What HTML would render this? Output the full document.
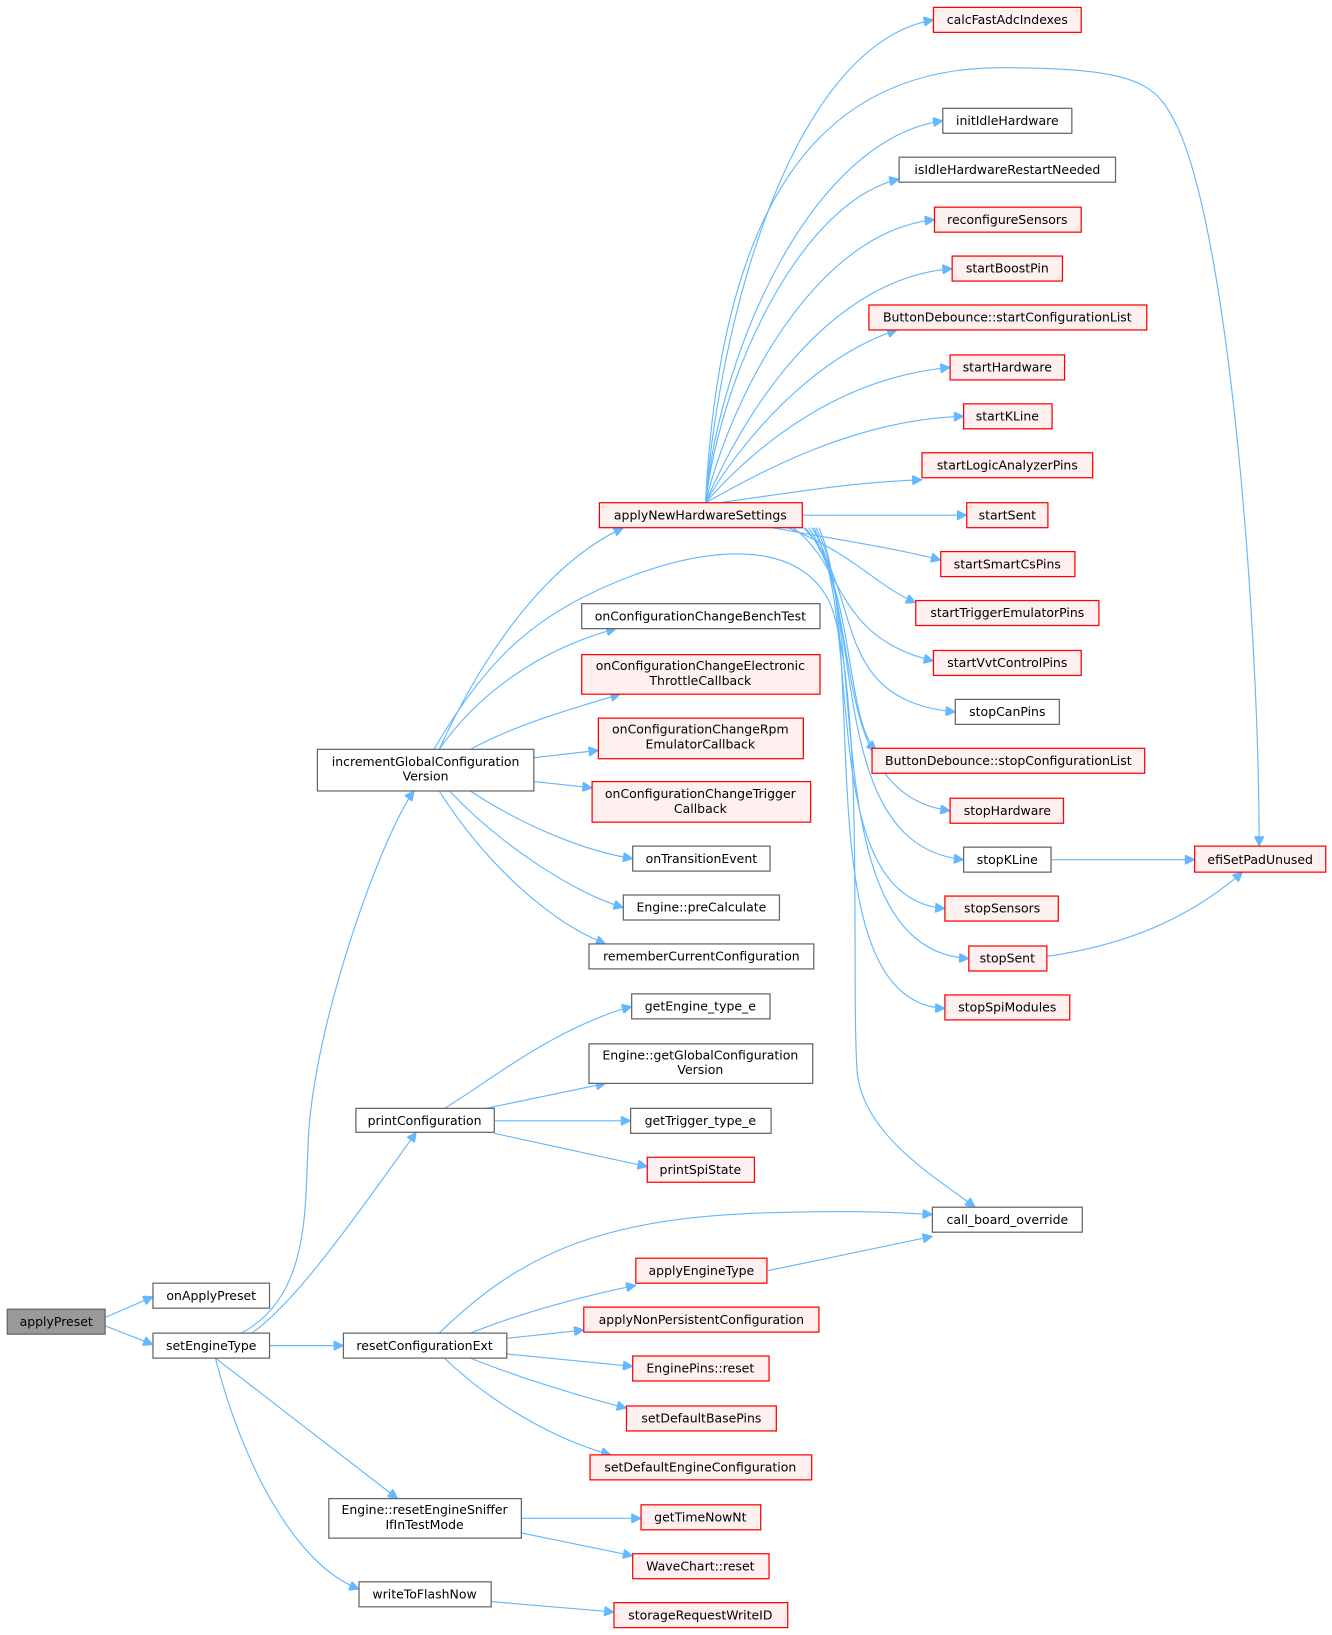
<!DOCTYPE html>
<html><head><meta charset="utf-8"><style>
html,body{margin:0;padding:0;background:#fff;width:1332px;height:1635px;overflow:hidden}
svg{display:block}
text{font-family:"DejaVu Sans","Liberation Sans",sans-serif;font-size:12px;fill:#000;text-anchor:middle}
.g{fill:#fff;stroke:#666;stroke-width:1.2}
.r{fill:#fff0f0;stroke:#ff0000;stroke-width:1.2}
.s{fill:#999;stroke:#666;stroke-width:1.2}
.e{fill:none;stroke:#63b8ff;stroke-width:1.1}
</style></head><body>
<svg width="1332" height="1635" viewBox="0 0 1280 1571" xmlns="http://www.w3.org/2000/svg">
<defs><marker id="a" viewBox="0 0 10 10" refX="10" refY="5" markerWidth="11" markerHeight="9" markerUnits="userSpaceOnUse" orient="auto"><path d="M0,0 L10,5 L0,10 z" fill="#63b8ff" stroke="#63b8ff"/></marker></defs>
<g transform="translate(2,3)">
<g class="e" marker-end="url(#a)">
<path d="M99,1263 L145,1243"/>
<path d="M99,1271 L145,1289"/>
<path d="M230,1278 C300,1240 290,1150 295,1080 C305,960 370,790 396,757"/>
<path d="M240,1278 C280,1250 330,1180 398,1085"/>
<path d="M257,1290 L328,1290"/>
<path d="M205,1302 L380,1437"/>
<path d="M205,1302 C230,1400 280,1500 343,1524"/>
<path d="M420,717 C460,630 520,540 597,504"/>
<path d="M420,717 C460,660 520,620 590,601"/>
<path d="M450,717 C490,695 540,680 594,664"/>
<path d="M511,725 L573,718"/>
<path d="M511,748 L567,754"/>
<path d="M450,757 C500,790 560,815 606,822"/>
<path d="M430,757 C480,810 550,855 597,869"/>
<path d="M420,757 C460,820 520,880 580,904"/>
<path d="M415,717 C460,640 500,600 560,570 C650,525 760,505 795,575 C830,660 815,950 822,1030 C830,1090 900,1130 935,1157"/>
<path d="M425,1062 C470,1035 530,985 605,964"/>
<path d="M465,1062 L580,1038"/>
<path d="M473,1074 L604,1074"/>
<path d="M473,1086 L620,1118"/>
<path d="M420,1278 C500,1200 580,1165 750,1162 C820,1160 860,1162 894,1164"/>
<path d="M450,1278 C500,1258 560,1242 609,1232"/>
<path d="M485,1283 L559,1275"/>
<path d="M485,1298 L606,1310"/>
<path d="M450,1302 C500,1322 560,1340 600,1350"/>
<path d="M425,1302 C470,1345 530,1380 585,1395"/>
<path d="M499,1456 L614,1456"/>
<path d="M499,1470 L606,1492"/>
<path d="M470,1536 L588,1546"/>
<path d="M736,1218 L894,1185"/>
<path d="M1008,823 L1146,823"/>
<path d="M1004,916 C1080,905 1140,880 1192,835"/>
<path d="M676,480 C690,300 760,40 895,16"/>
<path d="M676,480 C690,200 780,62 960,62 C1100,62 1110,80 1130,120 C1180,230 1208,600 1208,810"/>
<path d="M676,480 C690,330 780,130 904,113"/>
<path d="M676,480 C692,350 770,190 862,169"/>
<path d="M676,480 C700,380 780,220 896,208"/>
<path d="M676,480 C710,400 790,265 913,255"/>
<path d="M676,480 C710,420 780,340 860,314"/>
<path d="M676,480 C720,430 800,360 911,350"/>
<path d="M676,480 C730,450 820,400 924,397"/>
<path d="M690,480 C760,470 820,460 884,458"/>
<path d="M769,492 L927,492"/>
<path d="M740,504 C800,515 850,522 902,535"/>
<path d="M755,504 C820,530 840,560 878,576"/>
<path d="M760,504 C810,540 800,610 895,632"/>
<path d="M770,504 C830,560 790,670 916,681"/>
<path d="M772,504 C820,560 810,690 840,718"/>
<path d="M775,504 C830,580 790,760 911,776"/>
<path d="M778,504 C830,580 790,810 924,823"/>
<path d="M780,504 C830,600 780,860 906,870"/>
<path d="M782,504 C835,600 780,910 929,918"/>
<path d="M785,504 C835,620 770,960 906,966"/>
</g>
<rect class="s" x="5" y="1255" width="94" height="24"/><text x="52" y="1271">applyPreset</text>
<rect class="g" x="145" y="1230" width="112" height="24"/><text x="201" y="1246">onApplyPreset</text>
<rect class="g" x="145" y="1278" width="112" height="24"/><text x="201" y="1294">setEngineType</text>
<rect class="g" x="303" y="717" width="208" height="40"/><text x="407" y="733">incrementGlobalConfiguration</text><text x="407" y="747">Version</text>
<rect class="g" x="340" y="1062" width="133" height="23"/><text x="406" y="1078">printConfiguration</text>
<rect class="g" x="328" y="1278" width="157" height="24"/><text x="406" y="1294">resetConfigurationExt</text>
<rect class="g" x="314" y="1437" width="185" height="38"/><text x="406" y="1452">Engine::resetEngineSniffer</text><text x="406" y="1466">IfInTestMode</text>
<rect class="g" x="343" y="1517" width="127" height="24"/><text x="406" y="1533">writeToFlashNow</text>
<rect class="r" x="574" y="480" width="195" height="24"/><text x="671" y="496">applyNewHardwareSettings</text>
<rect class="g" x="557" y="577" width="229" height="24"/><text x="671" y="593">onConfigurationChangeBenchTest</text>
<rect class="r" x="557" y="626" width="229" height="38"/><text x="671" y="641">onConfigurationChangeElectronic</text><text x="671" y="655">ThrottleCallback</text>
<rect class="r" x="573" y="687" width="197" height="39"/><text x="671" y="702">onConfigurationChangeRpm</text><text x="671" y="716">EmulatorCallback</text>
<rect class="r" x="567" y="748" width="210" height="39"/><text x="671" y="764">onConfigurationChangeTrigger</text><text x="671" y="778">Callback</text>
<rect class="g" x="606" y="810" width="132" height="24"/><text x="672" y="826">onTransitionEvent</text>
<rect class="g" x="597" y="857" width="150" height="24"/><text x="672" y="873">Engine::preCalculate</text>
<rect class="g" x="564" y="904" width="216" height="24"/><text x="672" y="920">rememberCurrentConfiguration</text>
<rect class="g" x="605" y="952" width="133" height="24"/><text x="671" y="968">getEngine_type_e</text>
<rect class="g" x="564" y="1000" width="215" height="38"/><text x="671" y="1015">Engine::getGlobalConfiguration</text><text x="671" y="1029">Version</text>
<rect class="g" x="604" y="1062" width="135" height="24"/><text x="671" y="1078">getTrigger_type_e</text>
<rect class="r" x="620" y="1109" width="103" height="24"/><text x="671" y="1125">printSpiState</text>
<rect class="r" x="609" y="1206" width="126" height="24"/><text x="672" y="1222">applyEngineType</text>
<rect class="r" x="559" y="1253" width="226" height="24"/><text x="672" y="1269">applyNonPersistentConfiguration</text>
<rect class="r" x="606" y="1300" width="131" height="24"/><text x="671" y="1316">EnginePins::reset</text>
<rect class="r" x="600" y="1348" width="144" height="24"/><text x="672" y="1364">setDefaultBasePins</text>
<rect class="r" x="565" y="1395" width="213" height="24"/><text x="671" y="1411">setDefaultEngineConfiguration</text>
<rect class="r" x="614" y="1443" width="115" height="24"/><text x="671" y="1459">getTimeNowNt</text>
<rect class="r" x="606" y="1490" width="131" height="24"/><text x="671" y="1506">WaveChart::reset</text>
<rect class="r" x="588" y="1537" width="167" height="24"/><text x="671" y="1553">storageRequestWriteID</text>
<rect class="r" x="895" y="4" width="142" height="24"/><text x="966" y="20">calcFastAdcIndexes</text>
<rect class="g" x="904" y="101" width="124" height="24"/><text x="966" y="117">initIdleHardware</text>
<rect class="g" x="862" y="148" width="208" height="24"/><text x="966" y="164">isIdleHardwareRestartNeeded</text>
<rect class="r" x="896" y="196" width="141" height="24"/><text x="966" y="212">reconfigureSensors</text>
<rect class="r" x="913" y="243" width="106" height="24"/><text x="966" y="259">startBoostPin</text>
<rect class="r" x="833" y="290" width="267" height="24"/><text x="966" y="306">ButtonDebounce::startConfigurationList</text>
<rect class="r" x="911" y="338" width="110" height="24"/><text x="966" y="354">startHardware</text>
<rect class="r" x="924" y="385" width="85" height="24"/><text x="966" y="401">startKLine</text>
<rect class="r" x="884" y="432" width="164" height="24"/><text x="966" y="448">startLogicAnalyzerPins</text>
<rect class="r" x="927" y="480" width="78" height="24"/><text x="966" y="496">startSent</text>
<rect class="r" x="902" y="527" width="129" height="24"/><text x="966" y="543">startSmartCsPins</text>
<rect class="r" x="878" y="574" width="176" height="24"/><text x="966" y="590">startTriggerEmulatorPins</text>
<rect class="r" x="895" y="622" width="142" height="24"/><text x="966" y="638">startVvtControlPins</text>
<rect class="g" x="916" y="669" width="100" height="24"/><text x="966" y="685">stopCanPins</text>
<rect class="r" x="836" y="716" width="262" height="24"/><text x="967" y="732">ButtonDebounce::stopConfigurationList</text>
<rect class="r" x="911" y="764" width="109" height="24"/><text x="966" y="780">stopHardware</text>
<rect class="g" x="924" y="811" width="84" height="24"/><text x="966" y="827">stopKLine</text>
<rect class="r" x="906" y="858" width="109" height="24"/><text x="961" y="874">stopSensors</text>
<rect class="r" x="929" y="906" width="75" height="24"/><text x="966" y="922">stopSent</text>
<rect class="r" x="906" y="953" width="120" height="24"/><text x="966" y="969">stopSpiModules</text>
<rect class="g" x="894" y="1157" width="144" height="24"/><text x="966" y="1173">call_board_override</text>
<rect class="r" x="1146" y="810" width="126" height="25"/><text x="1209" y="827">efiSetPadUnused</text>
</g>
</svg>
</body></html>
